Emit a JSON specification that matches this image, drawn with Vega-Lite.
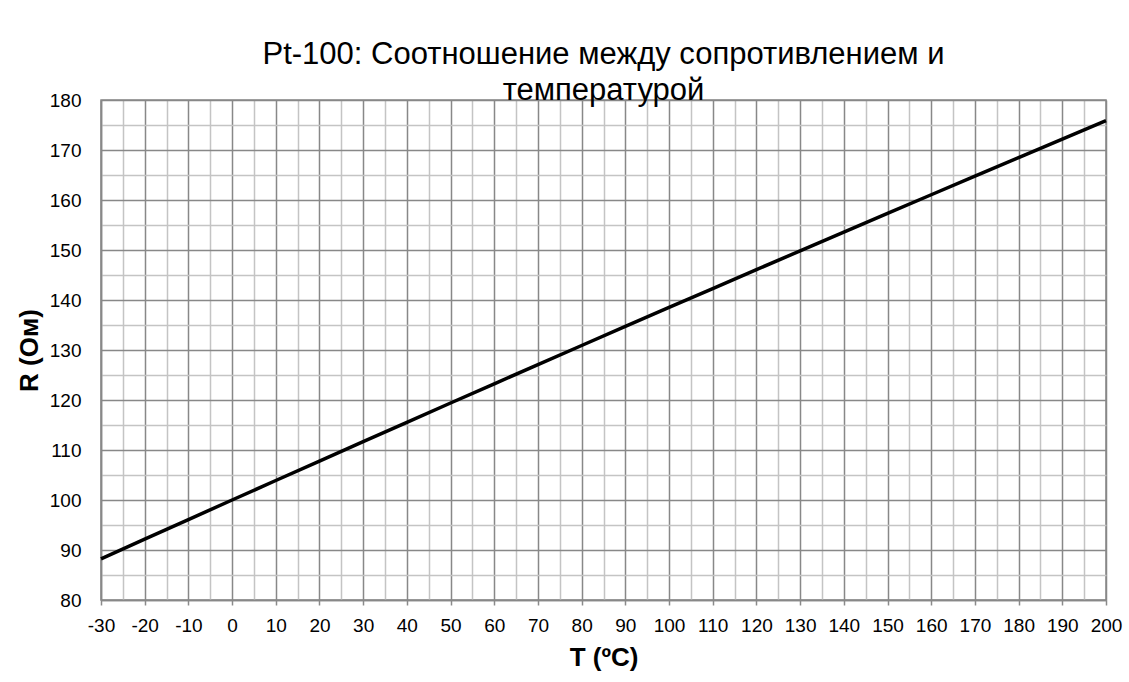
{
  "$schema": "https://vega.github.io/schema/vega-lite/v6.json",
  "autosize": "none",
  "width": 1005,
  "height": 500,
  "padding": {"left": 101, "top": 100, "right": 23, "bottom": 82},
  "background": "white",
  "title": {
    "text": ["Pt-100: Соотношение между сопротивлением и", "температурой"],
    "font": "Liberation Sans",
    "fontSize": 31,
    "fontWeight": "normal",
    "color": "black",
    "lineHeight": 36,
    "anchor": "middle",
    "offset": -16
  },
  "data": {
    "values": [
      {"T": -30, "R": 88.22},
      {"T": -20, "R": 92.16},
      {"T": -10, "R": 96.09},
      {"T": 0, "R": 100.0},
      {"T": 10, "R": 103.9},
      {"T": 20, "R": 107.79},
      {"T": 30, "R": 111.67},
      {"T": 40, "R": 115.54},
      {"T": 50, "R": 119.4},
      {"T": 60, "R": 123.24},
      {"T": 70, "R": 127.08},
      {"T": 80, "R": 130.9},
      {"T": 90, "R": 134.71},
      {"T": 100, "R": 138.51},
      {"T": 110, "R": 142.29},
      {"T": 120, "R": 146.07},
      {"T": 130, "R": 149.83},
      {"T": 140, "R": 153.58},
      {"T": 150, "R": 157.33},
      {"T": 160, "R": 161.05},
      {"T": 170, "R": 164.77},
      {"T": 180, "R": 168.48},
      {"T": 190, "R": 172.17},
      {"T": 200, "R": 175.86}
    ]
  },
  "mark": {"type": "line", "color": "black", "strokeWidth": 3.5},
  "encoding": {
    "x": {
      "field": "T",
      "type": "quantitative",
      "scale": {"domain": [-30, 200], "nice": false, "zero": false},
      "axis": {
        "title": "T (ºC)",
        "values": [-30,-25,-20,-15,-10,-5,0,5,10,15,20,25,30,35,40,45,50,55,60,65,70,75,80,85,90,95,100,105,110,115,120,125,130,135,140,145,150,155,160,165,170,175,180,185,190,195,200],
        "labelExpr": "datum.value % 10 === 0 ? toString(datum.value) : ''",
        "labelFont": "Liberation Sans",
        "labelFontSize": 19,
        "labelColor": "black",
        "labelPadding": 11,
        "labelFlush": false,
        "labelOverlap": false,
        "tickSize": 5,
        "tickColor": "#8a8a8a",
        "tickWidth": 1.5,
        "tickOpacity": {"condition": {"test": "datum.value % 10 === 0", "value": 1}, "value": 0},
        "grid": true,
        "gridColor": {"condition": {"test": "datum.value % 10 === 0", "value": "#888888"}, "value": "#c4c4c4"},
        "gridWidth": 1.5,
        "gridOpacity": 1,
        "domainColor": "#888888",
        "domainWidth": 1.5,
        "titleFont": "Liberation Sans",
        "titleFontSize": 26,
        "titleFontWeight": "bold",
        "titleColor": "black",
        "titlePadding": 9
      }
    },
    "y": {
      "field": "R",
      "type": "quantitative",
      "scale": {"domain": [80, 180], "nice": false, "zero": false},
      "axis": {
        "title": "R (Ом)",
        "values": [80,85,90,95,100,105,110,115,120,125,130,135,140,145,150,155,160,165,170,175,180],
        "labelExpr": "datum.value % 10 === 0 ? toString(datum.value) : ''",
        "labelFont": "Liberation Sans",
        "labelFontSize": 19,
        "labelColor": "black",
        "labelPadding": 20,
        "labelFlush": false,
        "labelOverlap": false,
        "ticks": false,
        "tickSize": 0,
        "grid": true,
        "gridColor": {"condition": {"test": "datum.value % 10 === 0", "value": "#888888"}, "value": "#c4c4c4"},
        "gridWidth": 1.5,
        "gridOpacity": 1,
        "domainColor": "#888888",
        "domainWidth": 1.5,
        "titleFont": "Liberation Sans",
        "titleFontSize": 26,
        "titleFontWeight": "bold",
        "titleColor": "black",
        "titlePadding": 7
      }
    }
  },
  "config": {
    "view": {"stroke": "#888888", "strokeWidth": 1.5}
  }
}
